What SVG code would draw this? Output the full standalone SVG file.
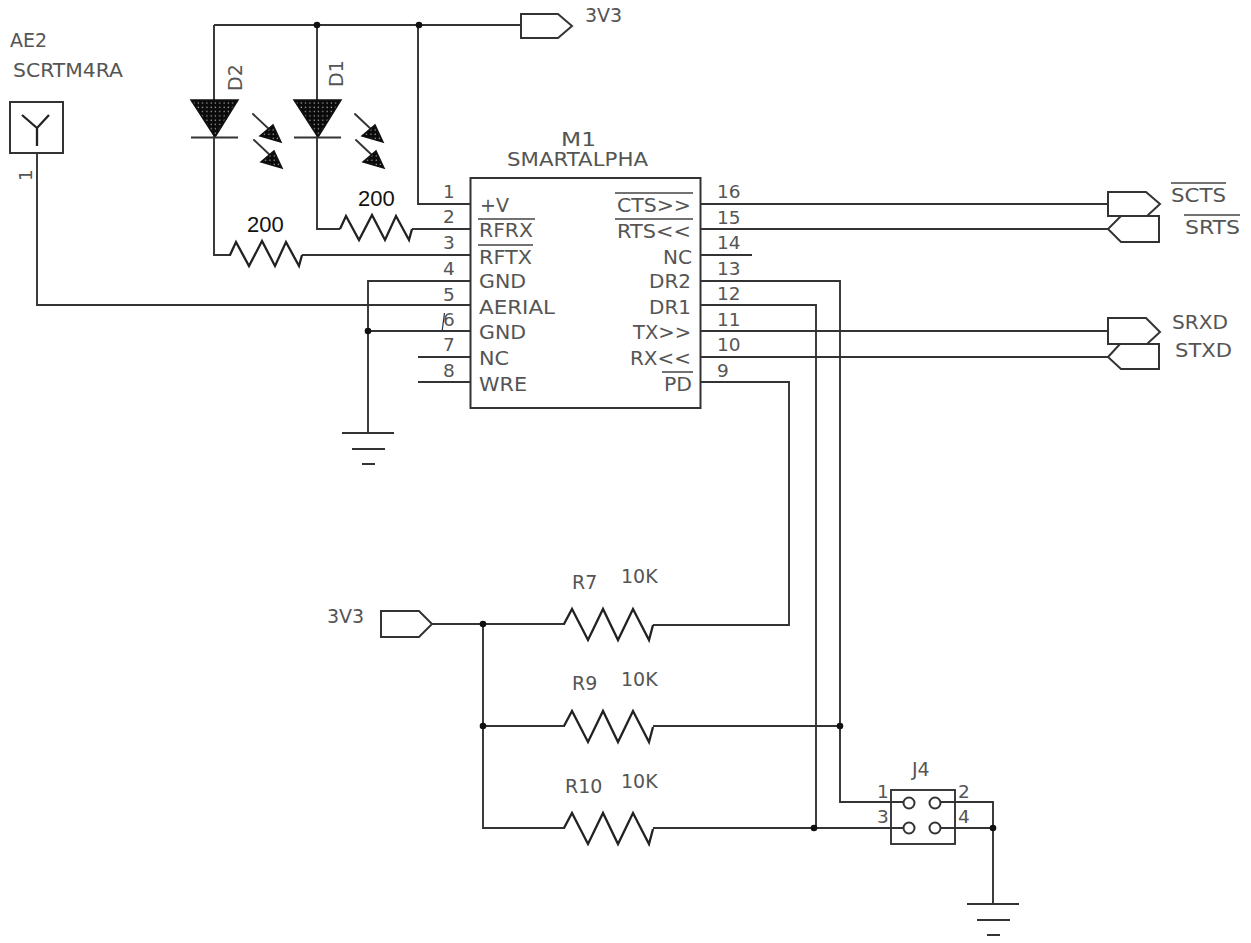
<svg xmlns="http://www.w3.org/2000/svg" width="1251" height="943" viewBox="0 0 1251 943">
<style>
.w{fill:none;stroke:#333;stroke-width:1.9;stroke-linejoin:miter}
.b{fill:#fff;stroke:#333;stroke-width:2}
.z{fill:none;stroke:#222;stroke-width:2.300}
.t{font-family:"DejaVu Sans",sans-serif;font-size:19px;fill:#555}
.p{font-family:"DejaVu Sans",sans-serif;font-size:18.500px;fill:#555}
.v{font-family:"Liberation Sans",sans-serif;font-size:22px;fill:#111}
.o{fill:none;stroke:#444;stroke-width:1.700}
.j{fill:#111}
.f{fill:url(#dots);stroke:#111;stroke-width:1.500}
</style>
<defs>
<pattern id="dots" width="4.3" height="4.3" patternUnits="userSpaceOnUse" x="1" y="1">
<rect width="4.3" height="4.3" fill="#0a0a0a"/><circle cx="2" cy="2" r="0.7" fill="#bbb"/>
</pattern>
<path id="rl" class="z" d="M0 0L8 -15L24 16L39 -15L54 16L69 -15L85 16L89 1"/>
<path id="rs" class="z" d="M0 0L6 -13L19 11L32 -14L45 11L56 -13L69 11L72 0"/>
<g id="gnd"><path class="w" d="M0 0H52M10 16H43M20 31H33"/></g>
<g id="led">
<path class="f" d="M0 0H47L24 37Z"/>
<path class="w" d="M0 37.500H47"/>
</g>
<g id="arr">
<path class="w" stroke-linecap="round" d="M0 0L18 17"/>
<path class="f" d="M28 28L7 22L20 11Z"/>
</g>
</defs>

<g id="connectors">
<path class="w" d="M214 25H521"/>
<path class="w" d="M214 25V255H231"/>
<path class="w" d="M302 255H470"/>
<path class="w" d="M317 25V229H340"/>
<path class="w" d="M412 229H470"/>
<path class="w" d="M418 25V204H470"/>
<path class="w" d="M37 153V305H470"/>
<path class="w" d="M368 433V281H470"/>
<path class="w" d="M368 331H470"/>
<path class="w" d="M418 357H470M418 382H470"/>
<path class="w" d="M701 204H1108M701 229H1108"/>
<path class="w" d="M701 255H752"/>
<path class="w" d="M701 281H840V802H903"/>
<path class="w" d="M701 305H816V828"/>
<path class="w" d="M701 331H1108M701 357H1108"/>
<path class="w" d="M701 382H789V625H653"/>
<path class="w" d="M432 624H565"/>
<path class="w" d="M483 624V828H565"/>
<path class="w" d="M483 726H565"/>
<path class="w" d="M653 726H840"/>
<path class="w" d="M653 828H903"/>
<path class="w" d="M941 802H993V904"/>
<path class="w" d="M941 828H993"/>
<path d="M444.500 313L442 332" fill="none" stroke="#234" stroke-width="1.200"/>
<circle class="j" cx="317" cy="25" r="3.300"/>
<circle class="j" cx="419" cy="25" r="3.300"/>
<circle class="j" cx="368" cy="331" r="3.300"/>
<circle class="j" cx="483" cy="624" r="3.300"/>
<circle class="j" cx="483" cy="726" r="3.300"/>
<circle class="j" cx="840" cy="726" r="3.300"/>
<circle class="j" cx="814" cy="828" r="3.300"/>
<circle class="j" cx="993" cy="828" r="3.300"/>
</g>

<g id="flag-3v3-top"><path class="b" d="M521 14H558L572 26L558 38H521Z"/><text class="t" x="585" y="22">3V3</text></g>
<g id="flag-3v3-left"><path class="b" d="M381 611H419L432 624L419 637H381Z"/><text class="t" x="327" y="623">3V3</text></g>

<g id="AE2">
<text class="t" x="10" y="47" textLength="37" lengthAdjust="spacingAndGlyphs">AE2</text>
<text class="t" x="13" y="77" textLength="110" lengthAdjust="spacingAndGlyphs">SCRTM4RA</text>
<rect class="b" x="10" y="102" width="53" height="51"/>
<path class="z" d="M22 115L37 128L49 115M37 128V146"/>
<text class="p" transform="translate(32 181) rotate(-90)">1</text>
</g>

<g id="D2">
<use href="#led" x="191" y="100"/>
<text class="t" transform="translate(242 91) rotate(-90)">D2</text>
<use href="#arr" x="253" y="114"/>
<use href="#arr" x="254" y="140"/>
</g>
<g id="D1">
<use href="#led" x="294" y="100"/>
<text class="t" transform="translate(343 87) rotate(-90)">D1</text>
<use href="#arr" x="355" y="114"/>
<use href="#arr" x="356" y="140"/>
</g>

<g id="R-200-1"><use href="#rs" x="230" y="255"/><text class="v" x="247" y="232">200</text></g>
<g id="R-200-2"><use href="#rs" x="340" y="229"/><text class="v" x="358" y="206">200</text></g>

<g id="M1">
<rect class="b" x="470.500" y="178" width="230" height="230"/>
<text class="t" x="561" y="146" textLength="35" lengthAdjust="spacingAndGlyphs">M1</text>
<text class="t" x="507" y="166" textLength="141" lengthAdjust="spacingAndGlyphs">SMARTALPHA</text>
<g class="pins">
<text class="p" x="443" y="198">1</text>
<text class="p" x="443" y="223">2</text>
<text class="p" x="443" y="249">3</text>
<text class="p" x="443" y="275">4</text>
<text class="p" x="443" y="301">5</text>
<text class="p" x="443" y="326">6</text>
<text class="p" x="443" y="351">7</text>
<text class="p" x="443" y="377">8</text>
<text class="p" x="717" y="198">16</text>
<text class="p" x="717" y="224">15</text>
<text class="p" x="717" y="249">14</text>
<text class="p" x="717" y="275">13</text>
<text class="p" x="717" y="300">12</text>
<text class="p" x="717" y="326">11</text>
<text class="p" x="717" y="351">10</text>
<text class="p" x="717" y="377">9</text>
</g>
<text class="t" x="480" y="212" textLength="29" lengthAdjust="spacingAndGlyphs">+V</text>
<text class="t" x="479" y="237" textLength="54" lengthAdjust="spacingAndGlyphs">RFRX</text>
<text class="t" x="479" y="264" textLength="53" lengthAdjust="spacingAndGlyphs">RFTX</text>
<text class="t" x="479" y="288" textLength="47" lengthAdjust="spacingAndGlyphs">GND</text>
<text class="t" x="479" y="314" textLength="76" lengthAdjust="spacingAndGlyphs">AERIAL</text>
<text class="t" x="479" y="339" textLength="47" lengthAdjust="spacingAndGlyphs">GND</text>
<text class="t" x="479" y="365" textLength="30" lengthAdjust="spacingAndGlyphs">NC</text>
<text class="t" x="479" y="391" textLength="48" lengthAdjust="spacingAndGlyphs">WRE</text>
<text class="t" x="617" y="212" textLength="74" lengthAdjust="spacingAndGlyphs">CTS&gt;&gt;</text>
<text class="t" x="617" y="238" textLength="74" lengthAdjust="spacingAndGlyphs">RTS&lt;&lt;</text>
<text class="t" x="663" y="264" textLength="29" lengthAdjust="spacingAndGlyphs">NC</text>
<text class="t" x="649" y="288" textLength="42" lengthAdjust="spacingAndGlyphs">DR2</text>
<text class="t" x="649" y="314" textLength="42" lengthAdjust="spacingAndGlyphs">DR1</text>
<text class="t" x="633" y="339" textLength="58" lengthAdjust="spacingAndGlyphs">TX&gt;&gt;</text>
<text class="t" x="630" y="365" textLength="61" lengthAdjust="spacingAndGlyphs">RX&lt;&lt;</text>
<text class="t" x="664" y="391" textLength="28" lengthAdjust="spacingAndGlyphs">PD</text>
<path class="o" d="M478 219H535M478 245H533M615 193H693M615 219H693M662 372H693"/>
</g>

<g id="flag-SCTS"><path class="b" d="M1108 192H1146L1160 204L1147 216H1108Z"/><text class="t" x="1171" y="202" textLength="55" lengthAdjust="spacingAndGlyphs">SCTS</text><path class="o" d="M1171 183H1226"/></g>
<g id="flag-SRTS"><path class="b" d="M1159 216V242H1121L1108 229L1121 216Z"/><text class="t" x="1185" y="234" textLength="55" lengthAdjust="spacingAndGlyphs">SRTS</text><path class="o" d="M1184 215H1240"/></g>
<g id="flag-SRXD"><path class="b" d="M1108 318H1146L1160 332L1147 344H1108Z"/><text class="t" x="1172" y="329" textLength="56" lengthAdjust="spacingAndGlyphs">SRXD</text></g>
<g id="flag-STXD"><path class="b" d="M1159 344V369H1121L1108 357L1120 344Z"/><text class="t" x="1175" y="357" textLength="57" lengthAdjust="spacingAndGlyphs">STXD</text></g>

<g id="gnd-1"><use href="#gnd" x="342" y="433"/></g>
<g id="gnd-2"><use href="#gnd" x="967" y="904"/></g>

<g id="R7"><use href="#rl" x="564" y="624"/><text class="t" x="572" y="589">R7</text><text class="t" x="621" y="583">10K</text></g>
<g id="R9"><use href="#rl" x="564" y="726"/><text class="t" x="572" y="690">R9</text><text class="t" x="621" y="686">10K</text></g>
<g id="R10"><use href="#rl" x="564" y="828"/><text class="t" x="565" y="793">R10</text><text class="t" x="621" y="788">10K</text></g>

<g id="J4">
<rect class="w" x="891" y="790" width="64" height="54"/>
<circle class="b" cx="909" cy="803" r="5.500"/>
<circle class="b" cx="935" cy="803" r="5.500"/>
<circle class="b" cx="909" cy="828" r="5.500"/>
<circle class="b" cx="935" cy="828" r="5.500"/>
<text class="t" x="912" y="776">J4</text>
<text class="p" x="877" y="798">1</text>
<text class="p" x="958" y="798">2</text>
<text class="p" x="877" y="823">3</text>
<text class="p" x="958" y="823">4</text>
</g>
</svg>
